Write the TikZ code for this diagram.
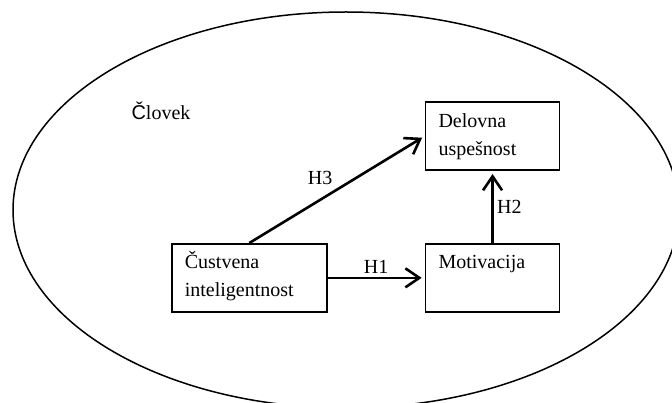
\documentclass[tikz,border=0pt]{standalone}
\usepackage{fontspec}
\setmainfont{Liberation Serif}
\newfontfamily\capfont{Liberation Sans}
\usetikzlibrary{arrows.meta,positioning}

\begin{document}
\begin{tikzpicture}[x=1pt,y=-1pt,>={Straight Barb[length=14pt,width=19pt]},font=\fontsize{20}{28}\selectfont,
  box/.style={draw,line width=1.7pt,align=left,inner xsep=13pt,inner ysep=0pt,text height=25pt,text depth=43pt,anchor=north west},
  link/.style={->,line width=2.6pt,shorten >=3pt}]
\path[use as bounding box] (0,0) rectangle (672,403);
\clip (0,0) rectangle (672,403);
\draw[line width=1.5pt] (346,210) ellipse [x radius=333,y radius=198];
\node[anchor=base west] (clovek) at (128,120) {{\capfont Č}lovek};
\node[box,text width=129pt] (cust) at (171,243) {Čustvena\\inteligentnost};
\node[box,text width=108pt,right=97pt of cust] (moti) {Motivacija};
\node[box,text width=108pt,above=72pt of moti] (deli) {Delovna\\uspešnost};
\draw[link] (cust) -- node[above] {H1} (moti);
\draw[link] (moti) -- node[right] {H2} (deli);
\draw[link] (cust.north) -- node[above left] {H3} (deli.west);
\end{tikzpicture}
\end{document}
